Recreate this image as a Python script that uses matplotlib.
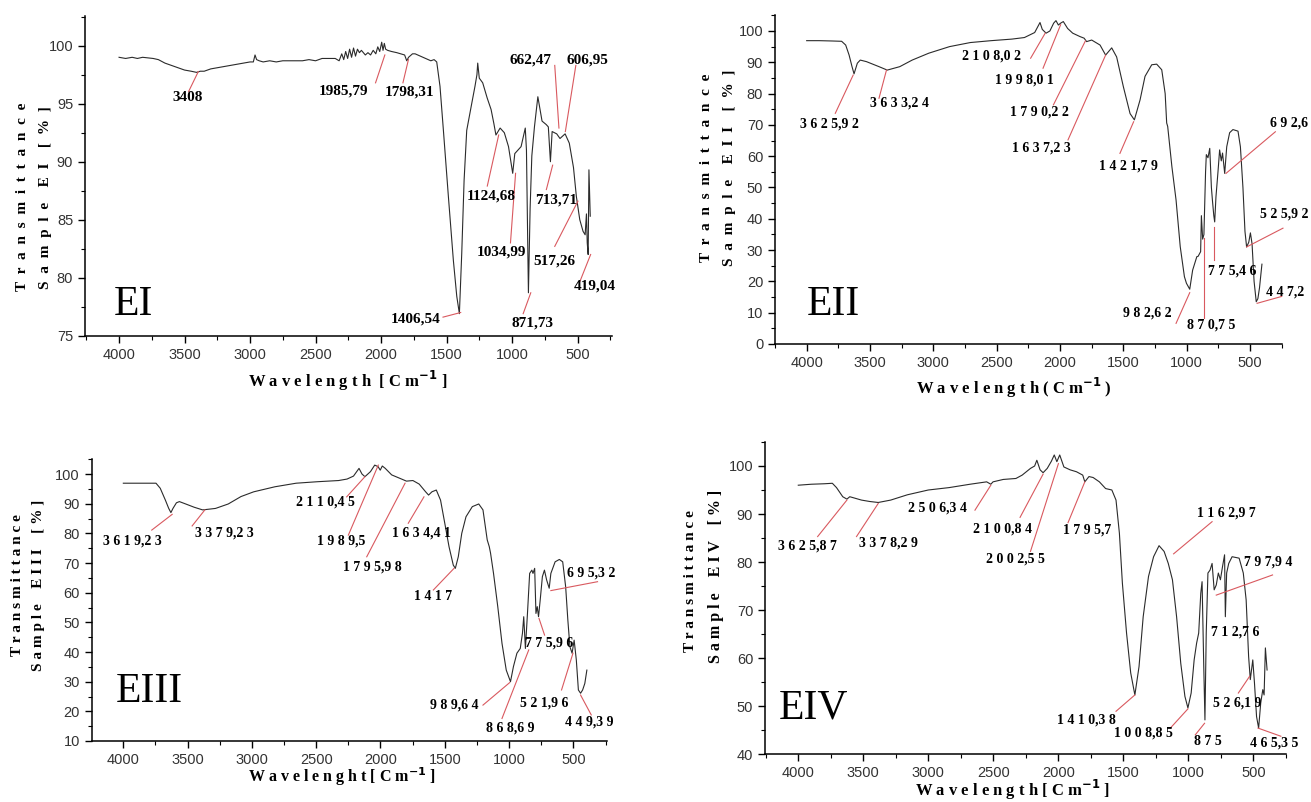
import numpy as np
import matplotlib
matplotlib.use('Agg')
import matplotlib.pyplot as plt
from matplotlib.ticker import MultipleLocator

# ---- spectra (wavenumber cm-1, transmittance %) ----
ei_wn = [4000, 3950, 3900, 3860, 3820, 3780, 3740, 3700, 3650, 3600, 3550, 3500, 3450, 3408, 3380,
         3350, 3300, 3250, 3200, 3150, 3100, 3050, 3000, 2975, 2962, 2950, 2930, 2900, 2850, 2800,
         2750, 2700, 2650, 2600, 2550, 2500, 2450, 2400, 2350, 2320, 2300, 2285, 2270, 2255, 2240,
         2225, 2210, 2195, 2180, 2165, 2150, 2120, 2100, 2080, 2060, 2040, 2025, 2010, 1995, 1985,
         1975, 1965, 1950, 1920, 1880, 1850, 1820, 1804, 1790, 1760, 1740, 1700, 1660, 1620, 1595,
         1575, 1550, 1524, 1486, 1448, 1422, 1402, 1384, 1366, 1346, 1308, 1283, 1268, 1262, 1250,
         1224, 1190, 1160, 1139, 1123, 1091, 1059, 1027, 995, 979, 931, 899, 890, 875, 862,
         849, 829, 803, 771, 739, 723, 707, 694, 659, 634, 595, 563, 531, 509, 483,
         458, 442, 432, 426, 419, 413, 403]
ei_t = [99.0, 98.9, 99.0, 98.9, 99.0, 98.95, 98.9, 98.8, 98.5, 98.3, 98.1, 97.9, 97.8, 97.7, 97.8,
        97.8, 98.0, 98.1, 98.2, 98.3, 98.4, 98.5, 98.6, 98.6, 99.2, 98.8, 98.7, 98.6, 98.7, 98.6,
        98.7, 98.7, 98.7, 98.7, 98.8, 98.7, 98.9, 98.9, 98.9, 98.7, 99.3, 98.8, 99.5, 98.9, 99.7,
        99.0, 99.8, 99.1, 99.7, 99.4, 99.6, 99.2, 99.4, 99.2, 99.6, 99.3, 99.9, 99.5, 100.3, 99.6,
        100.2, 99.7, 99.6, 99.5, 99.4, 99.3, 99.2, 98.7, 99.0, 99.3, 99.3, 99.1, 98.9, 98.7, 98.8,
        98.6, 96.5, 92.7, 87.0, 81.5, 78.4, 76.9, 82.1, 88.4, 92.7, 95.0, 96.5, 97.5, 98.5, 97.2,
        96.8, 95.5, 94.5, 93.3, 92.3, 92.9, 92.5, 91.3, 89.0, 90.7, 91.3, 92.9, 91.0, 78.7, 86.0,
        90.5, 93.0, 95.6, 93.5, 93.2, 93.0, 90.0, 92.6, 92.4, 92.0, 92.4, 91.6, 89.5, 87.0, 85.0,
        84.0, 83.7, 85.5, 83.0, 82.0, 89.3, 85.3]

eii_wn = [4000, 3900, 3800, 3724, 3692, 3665, 3642, 3626, 3600, 3577, 3528, 3429, 3364, 3265, 3167,
          3036, 2872, 2708, 2544, 2380, 2281, 2200, 2158, 2140, 2110, 2080, 2050, 2032, 2013, 1995,
          1974, 1940, 1900, 1842, 1810, 1790, 1750, 1684, 1640, 1592, 1553, 1500, 1447, 1413, 1368,
          1329, 1276, 1237, 1197, 1170, 1158, 1150, 1117, 1084, 1051, 1018, 1002, 976, 953, 920,
          910, 890, 884, 874, 864, 851, 845, 832, 818, 805, 796, 786, 779, 769, 753,
          740, 727, 717, 700, 684, 661, 635, 595, 576, 556, 540, 527, 510, 497, 484,
          468, 451, 438, 425, 415, 406]
eii_t = [96.9, 96.9, 96.8, 96.7, 95.5, 92.3, 88.6, 86.3, 89.7, 90.7, 90.2, 88.6, 87.5, 88.6, 90.7,
         92.9, 95.0, 96.3, 96.9, 97.4, 97.9, 99.5, 102.7, 100.5, 99.3, 100.0, 102.5, 103.3, 101.9, 102.5,
         103.0, 100.8, 99.3, 98.2, 97.7, 96.6, 97.1, 95.5, 92.3, 94.6, 91.7, 82.2, 73.6, 71.6, 78.0,
         85.5, 89.2, 89.4, 87.6, 80.0, 70.6, 69.5, 56.7, 46.0, 31.1, 21.5, 19.4, 17.5, 23.6, 27.9,
         28.0, 29.5, 41.0, 33.5, 35.0, 55.0, 60.5, 59.5, 62.5, 50.0, 45.5, 41.0, 39.0, 47.0, 55.0,
         62.0, 58.5, 61.0, 54.5, 63.0, 67.5, 68.5, 68.0, 63.0, 50.0, 36.0, 31.0, 32.5, 35.5, 32.0,
         20.0, 13.5, 14.5, 18.0, 22.0, 25.5]

eiii_wn = [4000, 3850, 3746, 3713, 3673, 3647, 3630, 3614, 3587, 3564, 3515, 3449, 3383, 3283, 3184,
           3085, 2986, 2821, 2656, 2491, 2326, 2260, 2210, 2167, 2144, 2121, 2078, 2045, 2019, 2002,
           1986, 1963, 1913, 1847, 1798, 1748, 1699, 1649, 1626, 1600, 1566, 1533, 1500, 1467, 1434,
           1418, 1395, 1368, 1335, 1286, 1236, 1203, 1170, 1154, 1144, 1121, 1088, 1055, 1022, 989,
           966, 939, 913, 896, 886, 873, 857, 840, 823, 814, 801, 791, 781, 771, 758,
           741, 725, 708, 688, 675, 642, 609, 583, 560, 543, 527, 510, 494, 477, 461,
           444, 428, 411, 395]
eiii_t = [96.9, 96.9, 96.9, 95.2, 91.2, 88.4, 87.0, 88.4, 90.3, 90.7, 89.9, 88.8, 87.9, 88.4, 89.9,
          92.4, 94.0, 95.7, 96.9, 97.4, 97.8, 98.3, 99.3, 101.9, 100.0, 99.1, 100.8, 103.0, 102.5, 101.3,
          102.7, 101.9, 99.7, 98.5, 97.6, 97.8, 96.6, 94.0, 92.9, 94.0, 94.6, 91.2, 83.4, 75.5, 69.3,
          68.2, 72.1, 80.0, 85.6, 89.0, 89.9, 87.9, 77.8, 75.5, 73.3, 66.5, 55.3, 42.9, 33.9, 30.0,
          35.1, 39.6, 41.2, 46.3, 51.9, 41.2, 53.0, 66.5, 67.6, 66.5, 68.2, 53.0, 55.3, 51.9, 57.5,
          65.4, 67.6, 64.3, 61.5, 66.5, 70.4, 71.2, 70.4, 62.0, 50.8, 41.8, 39.6, 44.0, 37.3, 27.2,
          26.1, 27.2, 29.4, 33.9]

eiv_wn = [4000, 3900, 3800, 3738, 3706, 3658, 3626, 3604, 3578, 3514, 3449, 3385, 3289, 3161, 3000,
          2840, 2679, 2551, 2519, 2502, 2423, 2326, 2278, 2214, 2182, 2165, 2140, 2117, 2085, 2053,
          2031, 2011, 1989, 1957, 1909, 1860, 1812, 1796, 1764, 1732, 1684, 1636, 1588, 1556, 1530,
          1507, 1475, 1443, 1411, 1379, 1347, 1306, 1267, 1225, 1186, 1154, 1122, 1090, 1058, 1026,
          1003, 978, 955, 936, 920, 904, 894, 881, 872, 862, 849, 833, 817, 801, 785,
          769, 753, 737, 721, 715, 705, 689, 663, 609, 577, 555, 536, 523, 504, 491,
          475, 459, 443, 427, 417, 407, 394]
eiv_t = [96.0, 96.2, 96.3, 96.4, 95.5, 93.6, 93.1, 93.6, 93.4, 92.9, 92.6, 92.4, 92.9, 94.0, 95.0,
         95.5, 96.2, 96.7, 96.2, 96.7, 97.2, 97.4, 98.1, 99.5, 100.0, 101.2, 99.2, 98.6, 99.5, 101.0,
         102.3, 100.9, 102.3, 99.8, 99.2, 98.8, 98.1, 96.7, 97.8, 97.6, 96.7, 95.3, 95.0, 92.9, 86.0,
         75.6, 65.2, 56.9, 52.3, 58.2, 68.6, 77.0, 81.1, 83.4, 82.2, 79.7, 76.3, 68.6, 58.9, 52.0,
         49.6, 52.7, 59.6, 63.1, 65.2, 73.5, 75.9, 58.2, 47.1, 65.2, 77.7, 78.3, 79.7, 74.2, 75.2,
         77.7, 76.3, 79.0, 81.5, 68.6, 77.7, 79.7, 81.1, 80.8, 77.7, 72.1, 60.3, 55.5, 59.6, 54.8,
         47.8, 45.4, 50.6, 53.4, 52.3, 62.1, 57.5]

# peak labels: text, text position, leader line start -> end (data coords)
ei_labels = ['3408', '1985,79', '1798,31', '662,47', '606,95', '1124,68', '1034,99',
             '713,71', '517,26', '1406,54', '871,73', '419,04']
ei_txt = [(3475, 95.5), (2284, 96.1), (1785, 96.05), (857, 98.8), (423, 98.8), (1157, 87.0),
          (1083, 82.2), (664, 86.7), (680, 81.4), (1736, 76.4), (844, 76.1), (368, 79.3)]
ei_lines = [(3469, 96.05, 3395, 97.77), (2042, 96.8, 1971, 99.2), (1833, 96.8, 1791, 98.8),
            (674, 98.3, 642, 92.9), (513, 98.3, 593, 92.6), (1189, 87.9, 1102, 92.3),
            (1012, 83.0, 973, 89.0), (738, 87.6, 690, 89.7), (674, 82.7, 497, 86.6),
            (1527, 76.6, 1392, 77.0), (915, 76.9, 857, 78.7), (481, 79.7, 400, 82.0)]

eii_labels = ['3 6 2 5,9 2', '3 6 3 3,2 4', '2 1 0 8,0 2', '1 9 9 8,0 1', '1 7 9 0,2 2',
              '1 6 3 7,2 3', '1 4 2 1,7 9', '6 9 2,6', '5 2 5,9 2', '7 7 5,4 6', '4 4 7,2',
              '9 8 2,6 2', '8 7 0,7 5']
eii_txt = [(3823, 70.3), (3265, 76.9), (2544, 92.0), (2281, 84.3), (2166, 74.0), (2150, 62.5),
           (1461, 57.0), (190, 70.5), (230, 41.5), (641, 23.4), (220, 16.7), (1314, 10.0), (806, 6.1)]
eii_lines = [(3774, 73.7, 3633, 85.9), (3429, 78.5, 3370, 87.5), (2232, 91.3, 2117, 99.3),
             (2134, 88.1, 1995, 102.0), (2052, 76.4, 1800, 96.8), (1937, 65.2, 1640, 92.3),
             (1527, 60.9, 1419, 71.0), (300, 67.8, 690, 54.5), (240, 37.0, 527, 31.0),
             (782, 26.8, 782, 37.5), (250, 15.2, 444, 13.0), (1084, 6.6, 976, 16.4),
             (864, 8.2, 864, 33.8)]

eiii_labels = ['3 6 1 9,2 3', '3 3 7 9,2 3', '2 1 1 0,4 5', '1 9 8 9,5', '1 7 9 5,9 8',
               '1 6 3 4,4 1', '1 4 1 7', '9 8 9,6 4', '8 6 8,6 9', '7 7 5,9 6', '6 9 5,3 2',
               '5 2 1,9 6', '4 4 9,3 9']
eiii_txt = [(3927, 77.5), (3217, 80.0), (2431, 90.4), (2302, 77.4), (2061, 68.7), (1680, 80.0),
            (1589, 58.6), (1428, 22.1), (989, 14.3), (691, 43.1), (361, 66.7), (724, 22.7), (378, 16.3)]
eiii_lines = [(3779, 81.1, 3620, 86.4), (3465, 82.5, 3366, 87.9), (2263, 92.3, 2121, 99.1),
              (2250, 79.4, 2017, 103.0), (2107, 72.1, 1809, 96.9), (1784, 83.4, 1662, 92.3),
              (1589, 60.9, 1428, 68.2), (1203, 22.1, 995, 29.7), (1055, 17.6, 847, 40.7),
              (724, 45.7, 767, 51.3), (312, 63.7, 675, 60.7), (592, 27.2, 503, 39.6),
              (361, 18.8, 444, 25.5)]

eiv_labels = ['3 6 2 5,8 7', '3 3 7 8,2 9', '2 5 0 6,3 4', '2 1 0 0,8 4', '2 0 0 2,5 5',
              '1 7 9 5,7', '1 1 6 2,9 7', '7 9 7,9 4', '7 1 2,7 6', '5 2 6,1 9', '1 4 1 0,3 8',
              '1 0 0 8,8 5', '8 7 5', '4 6 5,3 5']
eiv_txt = [(3931, 83.4), (3305, 83.9), (2929, 91.2), (2429, 86.9), (2326, 80.6), (1780, 86.7),
           (705, 90.3), (384, 80.0), (641, 65.5), (625, 50.7), (1780, 47.1), (1347, 44.4),
           (850, 42.6), (342, 42.3)]
eiv_lines = [(3851, 85.3, 3626, 92.9), (3552, 85.3, 3385, 92.2), (2641, 90.8, 2519, 96.0),
             (2294, 89.3, 2117, 98.3), (2214, 82.2, 1999, 100.5), (1925, 88.2, 1796, 96.7),
             (817, 88.4, 1113, 81.7), (352, 77.3, 785, 73.1), None, (615, 52.7, 528, 56.2),
             (1556, 48.9, 1411, 52.3), (1138, 45.4, 1003, 49.4), (946, 44.0, 875, 46.4),
             (288, 43.7, 464, 45.4)]

W, H = 1311, 802
serif = ['Liberation Serif', 'DejaVu Serif']
sans = ['Liberation Sans', 'DejaVu Sans']
red = '#d9595f'

fig = plt.figure(figsize=(W / 100, H / 100), dpi=100)


def rect(l, t, r, b):
    # pixel box -> figure fraction
    return [l / W, 1 - b / H, (r - l) / W, (b - t) / H]


def ftext(x, y, s, **kw):
    fig.text(x / W, 1 - y / H, s, **kw)


def spaced(s, gap='  '):
    # letter-spaced title, words split by '|'
    return '    '.join(gap.join(w) for w in s.split('|'))


panels = [
    dict(box=(85, 16, 611.6, 335.7), xlim=(4260, 240), ylim=(75, 102.56), major=5, minor=2.5,
         wn=ei_wn, t=ei_t, labels=ei_labels, txt=ei_txt, lines=ei_lines, lsize=11,
         tag='EI', tagpos=(3890, 77.7)),
    dict(box=(775, 15, 1281.7, 344), xlim=(4250, 250), ylim=(0, 105.1), major=10, minor=5,
         wn=eii_wn, t=eii_t, labels=eii_labels, txt=eii_txt, lines=eii_lines, lsize=10,
         tag='EII', tagpos=(3790, 12.5)),
    dict(box=(91.7, 459, 606.8, 741), xlim=(4246, 240), ylim=(10, 105.06), major=10, minor=5,
         wn=eiii_wn, t=eiii_t, labels=eiii_labels, txt=eiii_txt, lines=eiii_lines, lsize=10,
         tag='EIII', tagpos=(3800, 26.5)),
    dict(box=(765, 442, 1285.8, 754), xlim=(4256, 250), ylim=(40, 105), major=10, minor=5,
         wn=eiv_wn, t=eiv_t, labels=eiv_labels, txt=eiv_txt, lines=eiv_lines, lsize=10,
         tag='EIV', tagpos=(3880, 49.5)),
]

for p in panels:
    ax = fig.add_axes(rect(*p['box']))
    ax.plot(p['wn'], p['t'], color='#2b2b2b', lw=0.8)
    ax.set_xlim(*p['xlim'])
    ax.set_ylim(*p['ylim'])
    ax.xaxis.set_major_locator(MultipleLocator(500))
    ax.xaxis.set_minor_locator(MultipleLocator(250))
    ax.yaxis.set_major_locator(MultipleLocator(p['major']))
    ax.yaxis.set_minor_locator(MultipleLocator(p['minor']))
    for s in ['top', 'right']:
        ax.spines[s].set_visible(False)
    for s in ['left', 'bottom']:
        ax.spines[s].set_linewidth(1.1)
    ax.tick_params(which='major', direction='out', length=5, width=1, labelsize=10.5,
                   labelcolor='#333333')
    ax.tick_params(which='minor', direction='out', length=3, width=0.8)
    for lab in ax.get_xticklabels() + ax.get_yticklabels():
        lab.set_family(sans)
    ax.set_xticks([v for v in ax.get_xticks() if 500 <= v <= 4000])

    for lab, (tx, ty), ln in zip(p['labels'], p['txt'], p['lines']):
        ax.text(tx, ty, lab, ha='center', va='center', fontsize=p['lsize'],
                fontweight='bold', family=serif, clip_on=False)
        if ln is not None:
            ax.plot([ln[0], ln[2]], [ln[1], ln[3]], color=red, lw=0.8, clip_on=False)

    ax.text(p['tagpos'][0], p['tagpos'][1], p['tag'], ha='center', va='center',
            fontsize=30, family=serif)

# axis titles (letter-spaced, as in the scanned figure)
ylab = dict(rotation=90, ha='center', va='center', fontweight='bold', family=serif)
ftext(23, 197, spaced('Transmittance'), fontsize=11, **ylab)
ftext(46, 198, spaced('Sample|EI|[%]'), fontsize=11, **ylab)
ftext(706, 168, spaced('Transmittance'), fontsize=11, **ylab)
ftext(730, 168, spaced('Sample|EII|[%]'), fontsize=11, **ylab)
ftext(18, 585, spaced('Transmittance', ' '), fontsize=11, **ylab)
ftext(39, 585, spaced('Sample|EIII|[%]', ' '), fontsize=11, **ylab)
ftext(690, 581, spaced('Transmittance', ' '), fontsize=11, **ylab)
ftext(716, 576, spaced('Sample|EIV|[%]', ' '), fontsize=11.5, **ylab)

xlab = dict(ha='center', va='center', fontweight='bold', family=serif)
ftext(348, 381, r'W a v e l e n g t h  [ C m$^{\mathbf{-1}}$ ]', fontsize=12, **xlab)
ftext(1014, 388, r'W a v e l e n g t h ( C m$^{\mathbf{-1}}$ )', fontsize=12, **xlab)
ftext(342, 777, r'W a v e l e n g h t [ C m$^{\mathbf{-1}}$ ]', fontsize=11.5, **xlab)
ftext(1013, 790, r'W a v e l e n g t h [ C m$^{\mathbf{-1}}$ ]', fontsize=12, **xlab)

fig.savefig('out.png', dpi=100, facecolor='white')
